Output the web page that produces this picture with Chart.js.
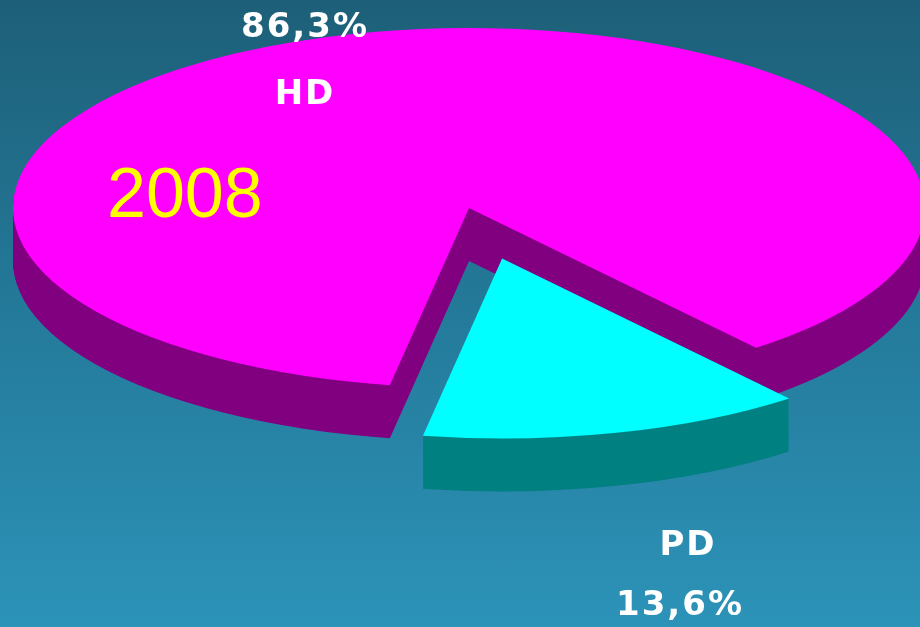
<!DOCTYPE html>
<html>
<head>
<meta charset="utf-8">
<script src="https://cdn.jsdelivr.net/npm/chart.js@4"></script>
<style>
  html, body { margin: 0; padding: 0; }
  body { width: 920px; height: 627px; overflow: hidden;
         background: linear-gradient(to bottom, #1d5f78 0%, #247a9a 50%, #2c93b8 100%); }
  #wrap { position: relative; width: 920px; height: 627px; }
</style>
</head>
<body>
<div id="wrap"><canvas id="c"></canvas></div>
<script>
// ---- data ----
const categories = ['HD', 'PD'];
const values = [86.3, 13.6];
const valueLabels = ['86,3%', '13,6%'];
const yearLabel = '2008';

// ---- styles ----
const topColors = ['#ff00ff', '#00ffff'];
const sideColors = ['#800080', '#008080'];
const explodeFrac = [0, 0.29];

const pie3d = {
  id: 'pie3d',
  beforeDatasetsDraw(chart, args, opts) {
    const meta = chart.getDatasetMeta(0);
    const ctx = chart.ctx;
    const els = meta.data;
    if (!els.length) return false;
    const R = els[0].outerRadius, ox = els[0].x, oy = els[0].y;
    function drawEl(el, color, dy, ex) {
      const mid = (el.startAngle + el.endAngle) / 2;
      ctx.save();
      ctx.translate(opts.cx, opts.cy + dy);
      ctx.scale(opts.rx / R, opts.ry / R);
      ctx.translate(-ox + Math.cos(mid) * ex * R, -oy + Math.sin(mid) * ex * R);
      const tmp = Object.create(el);
      tmp.options = Object.assign({}, el.options,
        { backgroundColor: color, borderColor: color, borderWidth: 0, offset: 0, spacing: 0 });
      tmp.draw(ctx);
      ctx.restore();
    }
    els.forEach((el, i) => {
      for (let d = opts.depth; d >= 1; d--) drawEl(el, sideColors[i], d, explodeFrac[i]);
      drawEl(el, topColors[i], 0, explodeFrac[i]);
    });
    return false;
  },
  afterDraw(chart, args, opts) {
    const ctx = chart.ctx;
    ctx.save();
    ctx.textAlign = 'center';
    ctx.textBaseline = 'alphabetic';
    ctx.fillStyle = '#ffffff';
    ctx.font = 'bold 34px "DejaVu Sans"';
    try { ctx.letterSpacing = '2px'; } catch (e) {}
    // HD labels
    ctx.fillText(valueLabels[0], 305, 37);
    ctx.fillText(categories[0], 305, 104);
    // PD labels
    ctx.fillText(categories[1], 688, 555);
    ctx.fillText(valueLabels[1], 680, 615);
    try { ctx.letterSpacing = '0px'; } catch (e) {}
    ctx.textAlign = 'left';
    ctx.fillStyle = '#ffff00';
    ctx.font = '70px "Liberation Sans"';
    ctx.fillText(yearLabel, 107, 217);
    ctx.restore();
  }
};

new Chart(document.getElementById('c'), {
  type: 'pie',
  data: {
    labels: categories,
    datasets: [{ data: values, backgroundColor: topColors, borderWidth: 0 }]
  },
  options: {
    responsive: true,
    maintainAspectRatio: false,
    animation: false,
    rotation: -170,
    layout: { padding: 0 },
    plugins: {
      legend: { display: false },
      tooltip: { enabled: false },
      pie3d: { cx: 469, cy: 208, rx: 456, ry: 180, depth: 53 }
    }
  },
  plugins: [pie3d]
});
</script>
</body>
</html>
